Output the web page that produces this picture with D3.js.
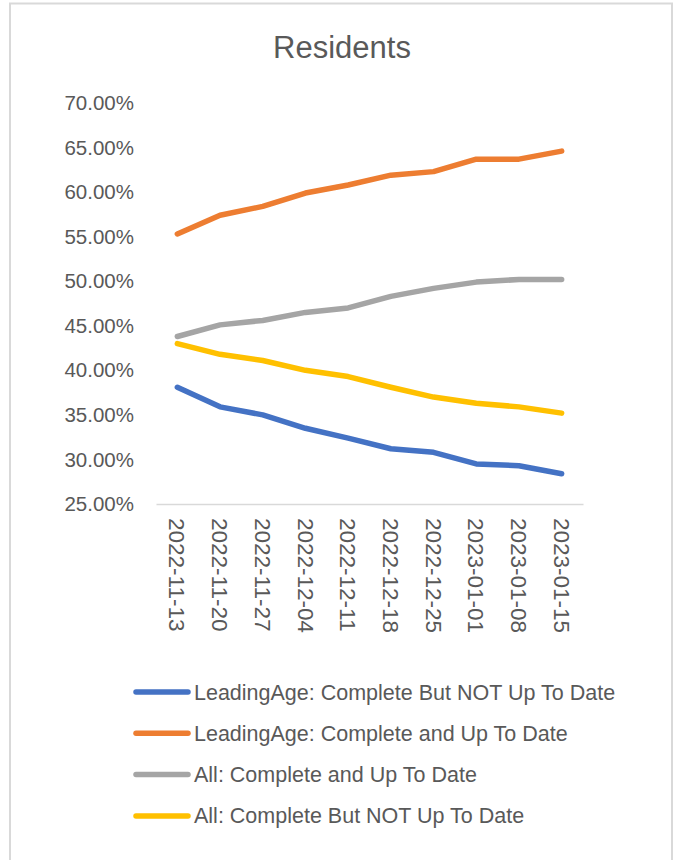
<!DOCTYPE html>
<html>
<head>
<meta charset="utf-8">
<script src="https://cdn.jsdelivr.net/npm/d3@7"></script>
<style>
	body { margin: 0; background: #fff; }
	text { font-family: "Liberation Sans", Arial, sans-serif; fill: #595959; }
</style>
</head>
<body>
<script>
// Chart data
const title = "Residents";
const dates = ["2022-11-13", "2022-11-20", "2022-11-27", "2022-12-04", "2022-12-11",
	"2022-12-18", "2022-12-25", "2023-01-01", "2023-01-08", "2023-01-15"];
const yTicks = [0.25, 0.30, 0.35, 0.40, 0.45, 0.50, 0.55, 0.60, 0.65, 0.70];

const seriesNames = [
	"LeadingAge: Complete But NOT Up To Date",
	"LeadingAge: Complete and Up To Date",
	"All: Complete and Up To Date",
	"All: Complete But NOT Up To Date"
];
const seriesColors = ["#4472C4", "#ED7D31", "#A5A5A5", "#FFC000"];

const leadingAgeNotUpToDate = [0.381, 0.359, 0.350, 0.335, 0.324, 0.312, 0.308, 0.295, 0.293, 0.284];
const leadingAgeUpToDate = [0.553, 0.574, 0.584, 0.599, 0.608, 0.619, 0.623, 0.637, 0.637, 0.646];
const allUpToDate = [0.438, 0.451, 0.456, 0.465, 0.470, 0.483, 0.492, 0.499, 0.502, 0.502];
const allNotUpToDate = [0.430, 0.418, 0.411, 0.400, 0.393, 0.381, 0.370, 0.363, 0.359, 0.352];

const seriesValues = [leadingAgeNotUpToDate, leadingAgeUpToDate, allUpToDate, allNotUpToDate];

// View
const width = 675;
const height = 860;

const svg = d3.select("body")
	.append("svg")
	.attr("width", width)
	.attr("height", height);

// Chart frame (bottom edge runs past the picture)
svg.append("rect")
	.attr("x", 10)
	.attr("y", 3.5)
	.attr("width", 662)
	.attr("height", 900)
	.attr("fill", "none")
	.attr("stroke", "#d9d9d9")
	.attr("stroke-width", 2);

svg.append("text")
	.attr("x", 342)
	.attr("y", 58)
	.attr("text-anchor", "middle")
	.style("font-size", "31px")
	.text(title);

// Scales
const x = d3.scaleBand()
	.domain(dates)
	.range([156, 583]);

const y = d3.scaleLinear()
	.domain([0.25, 0.70])
	.range([504, 103]);

const cx = d => x(d) + x.bandwidth() / 2;

// Y axis
const yAxis = svg.append("g")
	.attr("transform", "translate(134,0)")
	.call(d3.axisLeft(y).tickValues(yTicks).tickSize(0).tickPadding(0).tickFormat(d3.format(".2%")));
yAxis.select(".domain").remove();
yAxis.selectAll("text")
	.style("font-size", "20.5px")
	.attr("fill", "#595959");

// X axis
const xAxis = svg.append("g")
	.attr("transform", "translate(0,504)")
	.call(d3.axisBottom(x).tickSize(0).tickPadding(0));
xAxis.select(".domain")
	.attr("stroke", "#d9d9d9")
	.attr("stroke-width", 1.5);
xAxis.selectAll("text")
	.style("font-size", "22.5px")
	.attr("fill", "#595959")
	.attr("text-anchor", "start")
	.attr("y", 0)
	.attr("dy", "0.35em")
	.attr("transform", "translate(0,14) rotate(90)");

// Lines
const line = d3.line()
	.x((d, i) => cx(dates[i]))
	.y(d => y(d));

svg.append("g")
	.selectAll("path")
	.data(seriesValues)
	.enter()
	.append("path")
	.attr("d", d => line(d))
	.attr("fill", "none")
	.attr("stroke", (d, i) => seriesColors[i])
	.attr("stroke-width", 5.5)
	.attr("stroke-linecap", "round")
	.attr("stroke-linejoin", "round");

// Legend
const legend = svg.append("g")
	.selectAll("g")
	.data(seriesNames)
	.enter()
	.append("g")
	.attr("transform", (d, i) => `translate(0,${692 + i * 41.3})`);

legend.append("line")
	.attr("x1", 136)
	.attr("x2", 188)
	.attr("stroke", (d, i) => seriesColors[i])
	.attr("stroke-width", 5.5)
	.attr("stroke-linecap", "round");

legend.append("text")
	.attr("x", 194)
	.attr("dy", "0.35em")
	.style("font-size", "21.5px")
	.text(d => d);
</script>
</body>
</html>
